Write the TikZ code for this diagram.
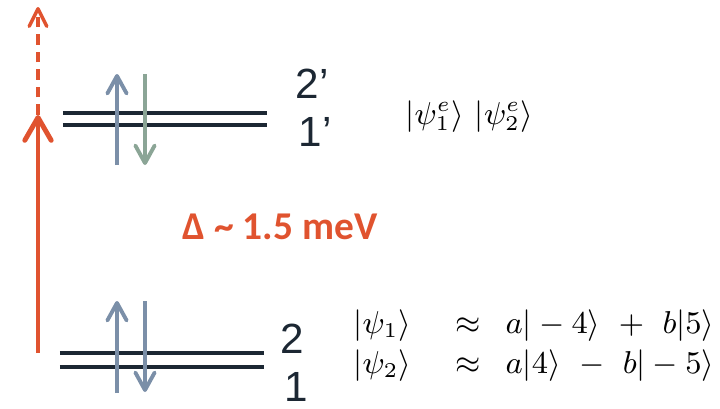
\documentclass[tikz,border=0pt]{standalone}
\usepackage{amsmath}
\usepackage{fontspec}
\usetikzlibrary{arrows.meta}
\newfontfamily\labelfont{Liberation Sans}
\newfontfamily\gapfont{Carlito}
\definecolor{gapred}{HTML}{E0532F}
\definecolor{levelink}{HTML}{1C2733}
\definecolor{spinblue}{HTML}{7B8FA8}
\definecolor{spingreen}{HTML}{8BA596}

\begin{document}
\begin{tikzpicture}[
  x=0.01cm,
  y=-0.01cm,
  level/.style={levelink, line width=1pt},
  levellabel/.style={font=\labelfont\fontsize{12}{14}\selectfont, levelink, inner sep=0pt},
  spinup/.style={spinblue, line width=1.1pt,
                 -{Straight Barb[length=5pt, width=5.5pt, round]}},
  spindown/.style={spinblue, line width=1.1pt,
                   -{Straight Barb[length=5pt, width=5.5pt, round]}},
  excite/.style={gapred, line width=1.4pt,
                 -{Straight Barb[length=6.5pt, width=7.5pt, round]}},
  exciteon/.style={gapred, line width=1pt, dash pattern=on 3pt off 2pt,
                   -{Straight Barb[length=5pt, width=5pt, round]}},
  ketrow/.style={font=\fontsize{9.2}{11.4}\selectfont, inner sep=0pt, anchor=west}
]
  \useasboundingbox (0,0) rectangle (720,408);

  %% ---- levels 1, 2 and 1', 2' ---------------------------------------------
  \coordinate (lowtwoL) at (60,353);   \coordinate (lowtwoR) at (264,353);
  \coordinate (lowoneL) at (60,367);   \coordinate (lowoneR) at (264,367);
  \coordinate (uptwoL) at (63,113);    \coordinate (uptwoR) at (267,113);
  \coordinate (uponeL) at (63,125);    \coordinate (uponeR) at (267,125);
  \draw[level] (lowtwoL) -- (lowtwoR);
  \draw[level] (lowoneL) -- (lowoneR);
  \draw[level] (uptwoL) -- (uptwoR);
  \draw[level] (uponeL) -- (uponeR);

  \node[levellabel] (lvltwo) at (292,339) {2};
  \node[levellabel] (lvlone) at (296,387) {1};
  \node[levellabel] (lvltwop) at (312,84) {2’};
  \node[levellabel] (lvlonep) at (315,132) {1’};

  %% ---- spins ---------------------------------------------------------------
  \coordinate (lowupA) at (117,393);  \coordinate (lowupB) at (117,301);
  \coordinate (lowdnA) at (145,301);  \coordinate (lowdnB) at (145,392);
  \coordinate (hiupA) at (117,165);   \coordinate (hiupB) at (117,74);
  \coordinate (hidnA) at (145,74);    \coordinate (hidnB) at (145,165);
  \draw[spinup] (lowupA) -- (lowupB);
  \draw[spindown] (lowdnA) -- (lowdnB);
  \draw[spinup] (hiupA) -- (hiupB);
  \draw[spindown, spingreen] (hidnA) -- (hidnB);

  %% ---- excitation across the gap -------------------------------------------
  \coordinate (gapfoot) at (38,353);
  \coordinate (gaptop) at (38,115);
  \coordinate (gapbeyond) at (38,7);
  \draw[excite] (gapfoot) -- (gaptop);
  \draw[exciteon] (gaptop) -- (gapbeyond);
  \node[font=\gapfont\bfseries\fontsize{11.2}{13}\selectfont, gapred, inner sep=0pt]
    (gap) at (280,227) {Δ \textasciitilde{} 1.5 meV};

  %% ---- states --------------------------------------------------------------
  \node[ketrow] (ketsup) at (405,117)
    {$|\psi_1^e\rangle\ |\psi_2^e\rangle$};
  \node[ketrow] (ketone) at (353,326)
    {$|\psi_1\rangle\hspace{10pt}\approx\hspace{4.5pt}a|-4\rangle\ +\ b|5\rangle$};
  \node[ketrow] (kettwo) at (353,366)
    {$|\psi_2\rangle\hspace{10pt}\approx\hspace{4.5pt}a|4\rangle\ -\ b|-5\rangle$};
\end{tikzpicture}
\end{document}
